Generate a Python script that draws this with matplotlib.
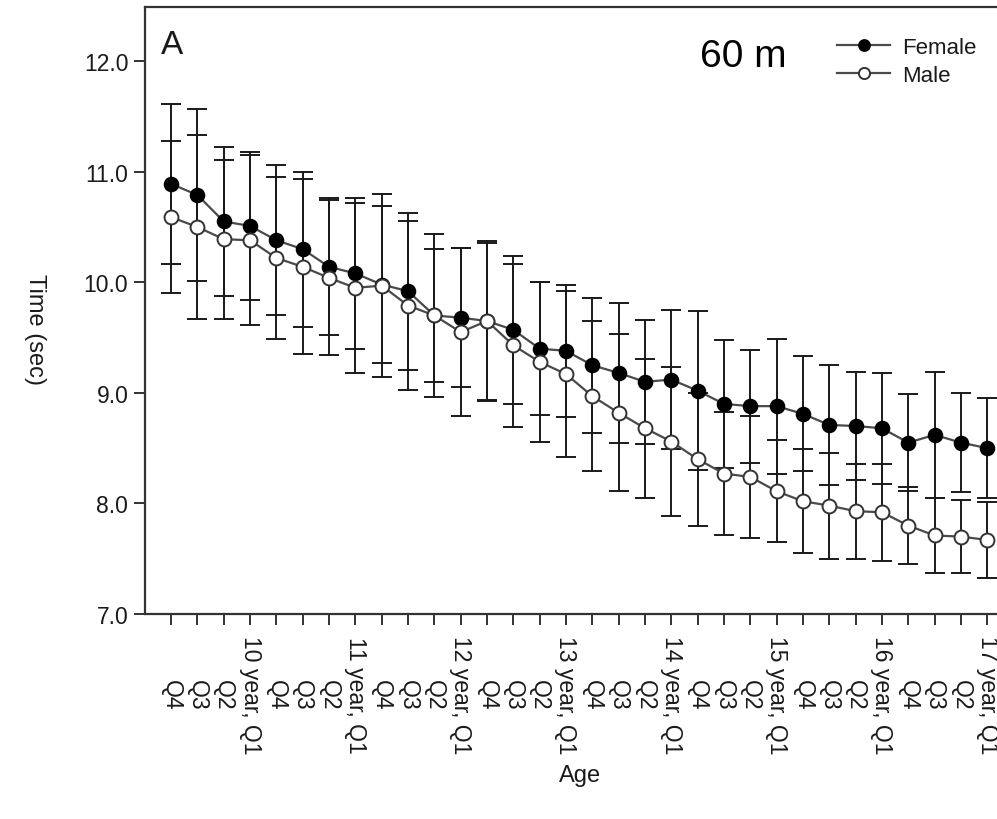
import matplotlib
matplotlib.use("Agg")
import matplotlib.pyplot as plt
import numpy as np

plt.rcParams['font.family'] = ['Liberation Sans', 'DejaVu Sans']

tick_labels = ["Q4", "Q3", "Q2", "10 year, Q1",
               "Q4", "Q3", "Q2", "11 year, Q1",
               "Q4", "Q3", "Q2", "12 year, Q1",
               "Q4", "Q3", "Q2", "13 year, Q1",
               "Q4", "Q3", "Q2", "14 year, Q1",
               "Q4", "Q3", "Q2", "15 year, Q1",
               "Q4", "Q3", "Q2", "16 year, Q1",
               "Q4", "Q3", "Q2", "17 year, Q1"]

female_mean = [10.89, 10.79, 10.55, 10.51, 10.38, 10.30, 10.14, 10.08,
               9.98, 9.92, 9.70, 9.68, 9.65, 9.57, 9.40, 9.38,
               9.25, 9.18, 9.10, 9.12, 9.02, 8.90, 8.88, 8.88,
               8.81, 8.71, 8.70, 8.68, 8.55, 8.62, 8.55, 8.50]
female_sd = [0.72, 0.78, 0.67, 0.67, 0.68, 0.70, 0.62, 0.68,
             0.71, 0.71, 0.60, 0.63, 0.72, 0.67, 0.60, 0.60,
             0.61, 0.63, 0.56, 0.63, 0.72, 0.58, 0.51, 0.61,
             0.52, 0.54, 0.49, 0.50, 0.44, 0.57, 0.45, 0.45]
male_mean = [10.59, 10.50, 10.39, 10.38, 10.22, 10.14, 10.04, 9.95,
             9.97, 9.79, 9.70, 9.55, 9.65, 9.43, 9.28, 9.17,
             8.97, 8.82, 8.68, 8.56, 8.40, 8.27, 8.24, 8.11,
             8.02, 7.98, 7.93, 7.92, 7.80, 7.71, 7.70, 7.67]
male_sd = [0.69, 0.83, 0.72, 0.77, 0.73, 0.79, 0.70, 0.77,
           0.83, 0.76, 0.74, 0.76, 0.71, 0.74, 0.72, 0.75,
           0.68, 0.71, 0.63, 0.67, 0.60, 0.56, 0.55, 0.46,
           0.47, 0.48, 0.43, 0.44, 0.35, 0.34, 0.33, 0.34]

x = np.arange(len(tick_labels))

fig = plt.figure(figsize=(9.97, 8.2), dpi=100)
ax = fig.add_axes([145/997, 1 - 615/820, 1 - 145/997, (615 - 8)/820])

line_col = '#4a4a4a'
txt_col = '#1a1a1a'

# error bars (behind markers)
ax.errorbar(x, female_mean, yerr=female_sd, fmt='none', ecolor='#1a1a1a',
            elinewidth=1.4, capsize=7, capthick=1.4, zorder=2)
ax.errorbar(x, male_mean, yerr=male_sd, fmt='none', ecolor='#1a1a1a',
            elinewidth=1.4, capsize=7, capthick=1.4, zorder=2)

fl, = ax.plot(x, female_mean, '-', color=line_col, lw=1.6, marker='o', ms=10,
              mfc='black', mec='black', mew=1.2, zorder=3, label='Female')
ml, = ax.plot(x, male_mean, '-', color=line_col, lw=1.6, marker='o', ms=10,
              mfc='white', mec='#333333', mew=1.4, zorder=4, label='Male')

ax.set_xlim(-0.99, 31.37)
ax.set_ylim(7.0, 12.49)
ax.set_yticks([7, 8, 9, 10, 11, 12])
ax.set_yticklabels(['7.0', '8.0', '9.0', '10.0', '11.0', '12.0'])
ax.set_xticks(x)
ax.set_xticklabels(tick_labels, rotation=-90, va='center', ha='center')

ax.tick_params(axis='both', direction='out', length=8, width=1.4,
               color='#333333', labelsize=16.5, labelcolor=txt_col)
ax.tick_params(axis='y', pad=4)
ax.tick_params(axis='x', pad=50)

for s in ['left', 'bottom', 'top']:
    ax.spines[s].set_linewidth(1.6)
    ax.spines[s].set_color('#333333')
ax.spines['right'].set_visible(False)

fig.text(35/997, 1 - 330/820, 'Time (sec)', rotation=-90, ha='center',
         va='center', fontsize=17, color=txt_col)
fig.text(580/997, 1 - 776/820, 'Age', ha='center', va='center',
         fontsize=17, color=txt_col)

ax.text(172/997, 1 - 45/820, 'A', transform=fig.transFigure, ha='center',
        va='center', fontsize=24, color=txt_col)
ax.text(743/997, 1 - 57/820, '60 m', transform=fig.transFigure, ha='center',
        va='center', fontsize=28, color='black')

leg = ax.legend(handles=[fl, ml], loc='upper left',
                bbox_to_anchor=(837/997, 1 - 38/820),
                bbox_transform=fig.transFigure, frameon=False,
                fontsize=16, handlelength=2.4, handletextpad=0.55,
                labelspacing=0.3, borderpad=0, borderaxespad=0,
                markerscale=0.8)
for t in leg.get_texts():
    t.set_color(txt_col)

fig.savefig('out.png', dpi=100)
